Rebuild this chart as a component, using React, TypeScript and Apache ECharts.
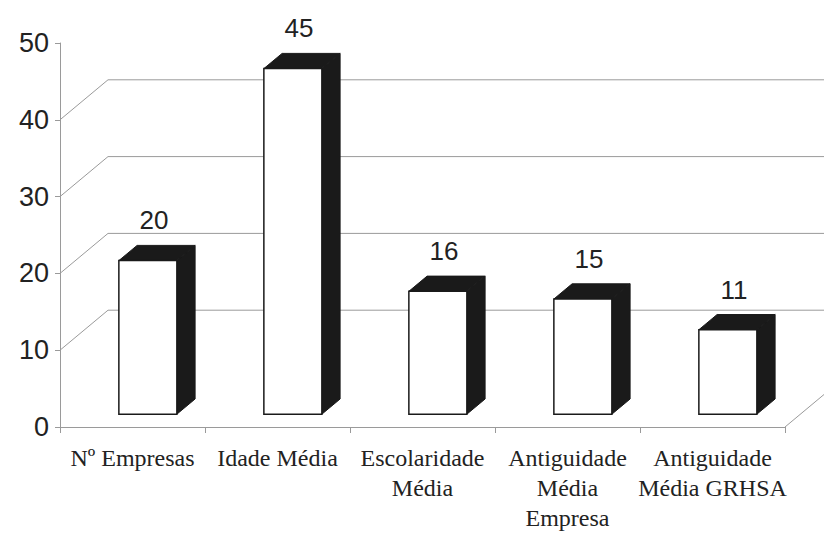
import React, { useEffect, useRef } from "react";
import * as echarts from "echarts";

// Category names (line breaks as printed under the axis)
const categories = [
  "Nº Empresas",
  "Idade Média",
  "Escolaridade\nMédia",
  "Antiguidade\nMédia\nEmpresa",
  "Antiguidade\nMédia GRHSA",
];
// Bar values
const values = [20, 45, 16, 15, 11];
// Value axis range
const yMin = 0;
const yMax = 50;
const yStep = 10;
// Levels drawn on the back wall / floor
const wallLevels = [0, 10, 20, 30, 40];

// Oblique projection of the depth axis (pixels for the full depth)
const DEPTH_X = 48;
const DEPTH_Y = -40;
const BAR_FRONT = 0.32;
const BAR_BACK = 0.7;

const LINE = "#9a9a9a";
const INK = "#1a1a1a";
const SANS = "'Liberation Sans', Arial, sans-serif";
const SERIF = "'Liberation Serif', 'Times New Roman', serif";

export default function App() {
  const ref = useRef<HTMLDivElement>(null);

  useEffect(() => {
    document.body.style.margin = "0";
    if (!ref.current) return;
    const chart = echarts.init(ref.current, undefined, { renderer: "svg" });

    const wallRender = (params: any, api: any) => {
      const v = api.value(0);
      const cs = params.coordSys;
      const p = api.coord([0, v]);
      const y = p[1];
      const left = cs.x;
      const right = cs.x + cs.width;
      const style = { stroke: LINE, lineWidth: 1, fill: "none" };
      if (v === 0) {
        return {
          type: "line",
          shape: { x1: right, y1: y, x2: right + DEPTH_X, y2: y + DEPTH_Y },
          style,
        };
      }
      return {
        type: "group",
        children: [
          {
            type: "line",
            shape: { x1: left, y1: y, x2: left + DEPTH_X, y2: y + DEPTH_Y },
            style,
          },
          {
            type: "line",
            shape: {
              x1: left + DEPTH_X,
              y1: y + DEPTH_Y,
              x2: right + DEPTH_X + 20,
              y2: y + DEPTH_Y,
            },
            style,
          },
        ],
      };
    };

    const barRender = (params: any, api: any) => {
      const idx = api.value(0);
      const v = api.value(1);
      const top = api.coord([idx, v]);
      const base = api.coord([idx, 0]);
      const w = api.size([1, 0])[0] * 0.4;
      const fx = DEPTH_X * BAR_FRONT;
      const fy = DEPTH_Y * BAR_FRONT;
      const sx = DEPTH_X * (BAR_BACK - BAR_FRONT);
      const sy = DEPTH_Y * (BAR_BACK - BAR_FRONT);
      const x0 = top[0] - w / 2 + fx;
      const x1 = x0 + w;
      const yt = top[1] + fy;
      const yb = base[1] + fy;
      return {
        type: "group",
        children: [
          {
            type: "polygon",
            shape: {
              points: [
                [x1, yt],
                [x1 + sx, yt + sy],
                [x1 + sx, yb + sy],
                [x1, yb],
              ],
            },
            style: { fill: INK, stroke: INK, lineWidth: 1 },
          },
          {
            type: "polygon",
            shape: {
              points: [
                [x0, yt],
                [x0 + sx, yt + sy],
                [x1 + sx, yt + sy],
                [x1, yt],
              ],
            },
            style: { fill: INK, stroke: INK, lineWidth: 1 },
          },
          {
            type: "rect",
            shape: { x: x0, y: yt, width: w, height: yb - yt },
            style: { fill: "#ffffff", stroke: INK, lineWidth: 1.5 },
          },
          {
            type: "text",
            style: {
              text: String(v),
              x: (x0 + x1 + sx) / 2 - 3,
              y: yt + sy - 25,
              align: "center",
              verticalAlign: "middle",
              fontSize: 26,
              fontFamily: SANS,
              fill: "#222",
            },
          },
        ],
      };
    };

    chart.setOption({
      animation: false,
      backgroundColor: "#ffffff",
      grid: { left: 60, right: 39, top: 43, bottom: 116 },
      xAxis: {
        type: "category",
        data: categories,
        boundaryGap: true,
        axisLine: { show: true, lineStyle: { color: LINE, width: 1 } },
        axisTick: {
          show: true,
          length: 6,
          alignWithLabel: false,
          lineStyle: { color: LINE },
        },
        axisLabel: {
          interval: 0,
          margin: 16,
          fontSize: 24,
          lineHeight: 30,
          fontFamily: SERIF,
          color: "#222",
        },
        splitLine: { show: false },
      },
      yAxis: {
        type: "value",
        min: yMin,
        max: yMax,
        interval: yStep,
        axisLine: { show: true, lineStyle: { color: LINE, width: 1 } },
        axisTick: { show: true, length: 5, lineStyle: { color: LINE } },
        axisLabel: {
          margin: 11,
          fontSize: 27,
          fontFamily: SANS,
          color: "#222",
        },
        splitLine: { show: false },
      },
      series: [
        {
          type: "custom",
          z: 1,
          clip: false,
          silent: true,
          renderItem: wallRender,
          encode: { y: 0 },
          data: wallLevels.map((v) => [v]),
        },
        {
          type: "custom",
          z: 3,
          clip: false,
          renderItem: barRender,
          encode: { x: 0, y: 1 },
          data: values.map((v, i) => [i, v]),
        },
      ],
    });

    return () => chart.dispose();
  }, []);

  return <div ref={ref} style={{ width: 824, height: 543 }} />;
}
